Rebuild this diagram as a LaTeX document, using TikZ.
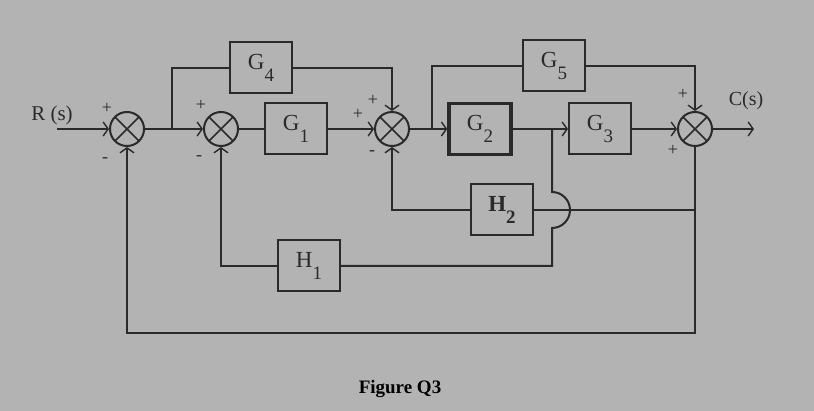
\documentclass[tikz,border=0pt]{standalone}
\usepackage{fontspec}
\setmainfont{Liberation Serif}
\usetikzlibrary{arrows.meta}
\definecolor{bggray}{HTML}{B3B3B3}
\definecolor{ink}{HTML}{2A2A2A}
\newcommand{\blabel}[2]{#1\raisebox{-0.5em}{\fontsize{19}{19}\selectfont #2}}

\begin{document}
\begin{tikzpicture}[x=1pt,y=-1pt,line width=2pt,ink,
  arr/.style={-{Straight Barb[length=5pt,width=14pt,line width=1.4pt]}},
  sumj/.style={circle,draw,minimum size=34pt,inner sep=0pt,
    path picture={\draw[line width=1.6pt]
      (path picture bounding box.north west) -- (path picture bounding box.south east)
      (path picture bounding box.north east) -- (path picture bounding box.south west);}},
  blk/.style={draw,minimum width=62pt,minimum height=51pt,inner sep=0pt,
    font=\fontsize{23}{25}\selectfont},
  sgn/.style={font=\fontsize{18}{18}\selectfont,inner sep=0pt}]
  \fill[bggray] (0,0) rectangle (814,411);
  \useasboundingbox (0,0) rectangle (814,411);

  % summing junctions
  \node[sumj] (sA) at (127,129) {};
  \node[sumj] (sB) at (221,129) {};
  \node[sumj] (sC) at (392,129) {};
  \node[sumj] (sD) at (695,129) {};

  % blocks
  \node[blk] (g4) at (261,68) {\blabel{G}{4}};
  \node[blk] (g1) at (296,129) {\blabel{G}{1}};
  \node[blk,line width=3.5pt] (g2) at (480,129) {\blabel{G}{2}};
  \node[blk] (g5) at (554,66) {\blabel{G}{5}};
  \node[blk] (g3) at (600,129) {\blabel{G}{3}};
  \node[blk] (h2) at (502,210) {\bfseries\blabel{H}{2}};
  \node[blk] (h1) at (309,266) {\blabel{H}{1}};

  \coordinate (rin) at (57,129);
  \coordinate (b1) at (172,129);
  \coordinate (b2) at (432,129);
  \coordinate (b3) at (552,129);
  \coordinate (hop) at (552,192);
  \coordinate (b4) at (552,266);
  \coordinate (cout) at (754,129);
  \coordinate (t2) at (695,210);
  \coordinate (t1) at (695,333);

  % forward path
  \draw[arr] (rin) -- (sA);
  \draw[arr] (sA) -- (sB);
  \draw (b1) |- (g4);
  \draw[arr] (g4) -| (sC);
  \draw (sB) -- (g1);
  \draw[arr] (g1) -- (sC);
  \draw[arr] (sC) -- (g2);
  \draw (b2) |- (g5);
  \draw[arr] (g5) -| (sD);
  \draw[arr] (g2) -- (g3);
  \draw[arr] (g3) -- (sD);
  \draw[arr] (sD) -- (cout);

  % feedback paths
  \draw[arr] (sD) -- (t1) -| (sA);
  \draw (t2) -- (h2);
  \draw[arr] (h2) -| (sC);
  \draw (b3) -- (hop) arc[start angle=90,end angle=-90,radius=18pt] -- (b4) -- (h1);
  \draw[arr] (h1) -| (sB);

  % signs
  \node[sgn] at (107,108) {+};
  \node[sgn] at (105,160) {-};
  \node[sgn] at (201,105) {+};
  \node[sgn] at (199,158) {-};
  \node[sgn] at (373,100) {+};
  \node[sgn] at (358,114) {+};
  \node[sgn] at (372,153) {-};
  \node[sgn] at (683,94) {+};
  \node[sgn] at (673,150) {+};

  % labels
  \node[font=\fontsize{21}{24}\selectfont] (rlab) at (52,115) {R (s)};
  \node[font=\fontsize{20}{24}\selectfont] (clab) at (746,101) {C(s)};
  \node[font=\bfseries\fontsize{19}{22}\selectfont,black] (cap) at (400,389) {Figure Q3};
\end{tikzpicture}
\end{document}
